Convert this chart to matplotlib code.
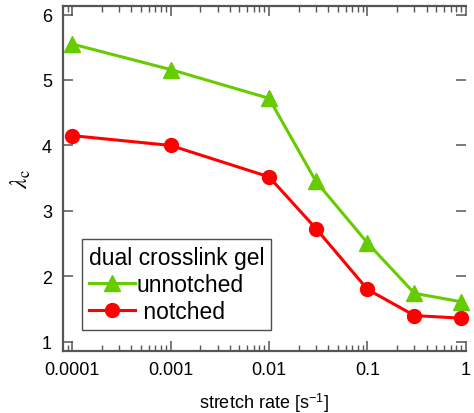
import matplotlib
matplotlib.use("Agg")
import matplotlib.pyplot as plt
from matplotlib.ticker import LogLocator, FixedLocator, NullFormatter

plt.rcParams['font.family'] = ['Liberation Sans', 'DejaVu Sans']
plt.rcParams['mathtext.fontset'] = 'stix'

rate_unnotched = [1e-4, 1e-3, 1e-2, 0.03, 0.1, 0.3, 0.9]
lam_unnotched = [5.55, 5.16, 4.72, 3.45, 2.51, 1.74, 1.61]
rate_notched = [1e-4, 1e-3, 1e-2, 0.03, 0.1, 0.3, 0.9]
lam_notched = [4.15, 4.00, 3.52, 2.73, 1.80, 1.40, 1.36]

xticks = [1e-4, 1e-3, 1e-2, 1e-1, 1]
xticklabels = ['0.0001', '0.001', '0.01', '0.1', '1']
yticks = [1, 2, 3, 4, 5, 6]

green = '#66CC00'
red = '#FF0000'

fig = plt.figure(figsize=(4.74, 4.14), dpi=100)
ax = fig.add_axes([0.133, 0.150, 0.850, 0.833])

ax.plot(rate_unnotched, lam_unnotched, color=green, lw=2.2, marker='^',
        markersize=12, label='unnotched', clip_on=False)
ax.plot(rate_notched, lam_notched, color=red, lw=2.2, marker='o',
        markersize=10, label=' notched', clip_on=False)

ax.set_xscale('log')
ax.set_xlim(8.1e-5, 1.0)
ax.set_ylim(0.86, 6.13)
ax.xaxis.set_major_locator(FixedLocator(xticks))
ax.set_xticklabels(xticklabels)
ax.xaxis.set_minor_locator(LogLocator(base=10, subs=range(2, 10)))
ax.xaxis.set_minor_formatter(NullFormatter())
ax.set_yticks(yticks)

spine_c = '#555555'
for s in ['left', 'bottom', 'top']:
    ax.spines[s].set_color(spine_c)
    ax.spines[s].set_linewidth(1.6)
ax.spines['right'].set_visible(False)

ax.tick_params(axis='both', which='both', colors=spine_c, labelcolor='black',
               labelsize=13)
ax.tick_params(axis='x', which='major', direction='in', length=7, width=1.1,
               top=True, pad=7)
ax.tick_params(axis='x', which='minor', direction='in', length=4, width=1.0,
               top=True)
ax.tick_params(axis='y', which='major', direction='in', length=7, width=1.1,
               right=True, pad=8)

ax.set_xlabel('stretch rate [s$^{\\mathregular{-1}}$]', fontsize=13, labelpad=9)
ax.set_ylabel(r'$\lambda_{\mathrm{c}}$', fontsize=17, labelpad=6)

leg = ax.legend(title='dual crosslink gel', loc='lower left',
                bbox_to_anchor=(0.047, 0.06), fontsize=16.5, title_fontsize=16.5,
                frameon=True, fancybox=False, edgecolor='#222222',
                handlelength=2.0, handletextpad=0.1, borderpad=0.3,
                labelspacing=0.18, borderaxespad=0)
leg.get_frame().set_linewidth(1.0)
leg._legend_box.align = 'left'

fig.savefig('out.png', dpi=100)
